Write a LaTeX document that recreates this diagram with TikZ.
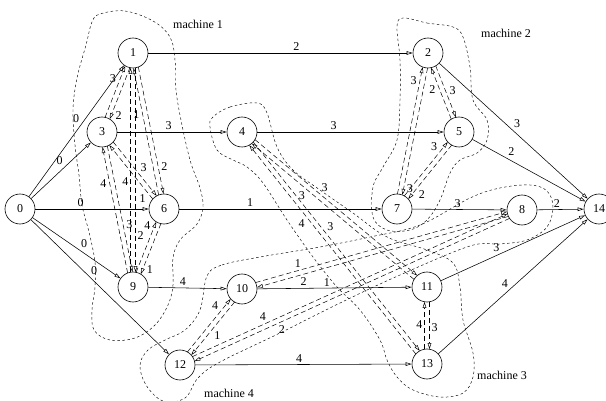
\documentclass[tikz,border=0pt]{standalone}
\usepackage{fontspec}
\setmainfont{Liberation Serif}
\usetikzlibrary{arrows.meta,calc}

\tikzset{
  txt/.style={font=\fontsize{12}{14}\selectfont},
  op/.style={txt, circle, draw, line width=0.6pt, fill=white, minimum size=30pt, inner sep=0pt},
  tip/.style={-{Triangle[open,length=6pt,width=3.6pt]}},
  conj/.style={tip, line width=0.55pt},
  disj/.style={tip, line width=0.5pt, dash pattern=on 5pt off 3pt,
    shorten <=14.8pt, shorten >=14.8pt},
  wlabel/.style={txt, auto, inner sep=1.8pt},
  hull/.style={line width=0.45pt, dash pattern=on 2.5pt off 2.5pt},
}

% one directed disjunctive arc, drawn beside the line joining the two operations
\newcommand{\disjarc}[4]{%
  \draw[disj] ($(#1)!2.5pt!90:(#2)$) -- node[wlabel, pos=#4] {#3} ($(#2)!2.5pt!-90:(#1)$);
}

\begin{document}
\begin{tikzpicture}[x=1pt, y=-1pt]
\useasboundingbox (0,0) rectangle (606,401);

% machine groups
\draw[hull] plot[smooth cycle, tension=0.6] coordinates {
  (100,14) (125,11) (153,21) (170,37) (175,60) (176,90) (181,120) (190,160)
  (200,188) (203,207) (197,224) (180,240) (173,258) (173,285) (168,305)
  (155,325) (135,338) (110,340) (94,330) (92,310) (95,287) (95,262) (89,232)
  (82,205) (79,175) (75,145) (73,110) (77,78) (86,45) (92,22)};
\draw[hull] plot[smooth cycle, tension=0.6] coordinates {
  (403,18) (427,23) (453,27) (463,37) (470,67) (473,100) (487,120) (487,140)
  (477,153) (460,160) (450,173) (440,200) (427,220) (410,230) (387,230)
  (373,217) (373,187) (383,167) (397,140) (400,100) (400,60) (397,27)};
\draw[hull] plot[smooth cycle, tension=0.6] coordinates {
  (213,117) (230,107) (257,103) (267,113) (277,147) (293,170) (320,190)
  (353,213) (387,237) (427,250) (453,263) (460,287) (463,320) (473,353)
  (473,377) (463,393) (440,397) (413,390) (397,377) (387,360) (380,340)
  (360,310) (337,287) (313,257) (287,220) (263,183) (247,167) (233,160)
  (217,150) (210,127)};
\draw[hull] plot[smooth cycle, tension=0.6] coordinates {
  (207,276) (222,265) (260,257) (320,247) (370,237) (420,225) (470,198)
  (500,188) (530,185) (547,191) (553,207) (547,227) (527,240) (500,244)
  (470,246) (400,275) (340,303) (280,333) (220,362) (198,378) (185,398)
  (163,401) (146,385) (140,365) (148,350) (165,340) (185,330) (200,310)};

\node[txt] (m1) at (198,24) {machine 1};
\node[txt] (m2) at (506,33) {machine 2};
\node[txt] (m3) at (502,375) {machine 3};
\node[txt, inner sep=1pt] (m4) at (229,393) {machine 4};

% operations
\node[op] (n0) at (20,209) {0};
\node[op] (n1) at (133,53) {1};
\node[op] (n2) at (428,53) {2};
\node[op] (n3) at (102,132) {3};
\node[op] (n4) at (242,132) {4};
\node[op] (n5) at (459,132) {5};
\node[op] (n6) at (164,209) {6};
\node[op] (n7) at (397,209) {7};
\node[op] (n8) at (522,210) {8};
\node[op] (n9) at (133,287) {9};
\node[op] (n10) at (242,289) {10};
\node[op] (n11) at (427,287) {11};
\node[op] (n12) at (180,365) {12};
\node[op] (n13) at (427,364) {13};
\node[op] (n14) at (599,209) {14};

% conjunctive arcs
\draw[conj] (n0) -- node[wlabel, pos=0.55] {0} (n1);
\draw[conj] (n0) -- node[wlabel, pos=0.56] {0} (n3);
\draw[conj] (n0) -- node[wlabel, pos=0.40] {0} (n6);
\draw[conj] (n0) -- node[wlabel, pos=0.53] {0} (n9);
\draw[conj] (n0) -- node[wlabel, pos=0.42] {0} (n12);
\draw[conj] (n1) -- node[wlabel, pos=0.56] {2} (n2);
\draw[conj] (n3) -- node[wlabel, pos=0.47] {3} (n4);
\draw[conj] (n6) -- node[wlabel, pos=0.35] {1} (n7);
\draw[conj] (n9) -- node[wlabel, pos=0.44] {4} (n10);
\draw[conj] (n4) -- node[wlabel, pos=0.41] {3} (n5);
\draw[conj] (n7) -- node[wlabel, pos=0.48] {3} (n8);
\draw[conj] (n10) -- node[wlabel, pos=0.45] {1} (n11);
\draw[conj] (n12) -- node[wlabel, pos=0.48] {4} (n13);
\draw[conj] (n2) -- node[wlabel, pos=0.49] {3} (n14);
\draw[conj] (n5) -- node[wlabel, pos=0.30] {2} (n14);
\draw[conj] (n8) -- node[wlabel, pos=0.42] {2} (n14);
\draw[conj] (n11) -- node[wlabel, pos=0.42] {3} (n14);
\draw[conj] (n13) -- node[wlabel, pos=0.48] {4} (n14);

% disjunctive arcs, machine 1
\disjarc{n3}{n1}{3}{0.59}
\disjarc{n1}{n3}{2}{0.70}
\disjarc{n6}{n1}{1}{0.65}
\disjarc{n1}{n6}{2}{0.77}
\disjarc{n9}{n1}{4}{0.45}
\disjarc{n1}{n9}{2}{0.78}
\disjarc{n3}{n6}{3}{0.56}
\disjarc{n6}{n3}{1}{0.23}
\disjarc{n9}{n3}{4}{0.71}
\disjarc{n3}{n9}{3}{0.64}
\disjarc{n9}{n6}{4}{0.70}
\disjarc{n6}{n9}{1}{0.69}
% machine 2
\disjarc{n7}{n2}{3}{0.78}
\disjarc{n2}{n7}{3}{0.83}
\disjarc{n5}{n2}{2}{0.62}
\disjarc{n2}{n5}{3}{0.56}
\disjarc{n7}{n5}{3}{0.71}
\disjarc{n5}{n7}{2}{0.71}
% machine 3
\disjarc{n4}{n11}{3}{0.41}
\disjarc{n11}{n4}{3}{0.64}
\disjarc{n4}{n13}{3}{0.44}
\disjarc{n13}{n4}{4}{0.64}
\disjarc{n13}{n11}{4}{0.51}
\disjarc{n11}{n13}{3}{0.53}
% machine 4
\disjarc{n10}{n8}{1}{0.22}
\disjarc{n8}{n10}{2}{0.80}
\disjarc{n12}{n8}{4}{0.26}
\disjarc{n8}{n12}{2}{0.72}
\disjarc{n12}{n10}{4}{0.68}
\disjarc{n10}{n12}{1}{0.51}
\end{tikzpicture}
\end{document}
